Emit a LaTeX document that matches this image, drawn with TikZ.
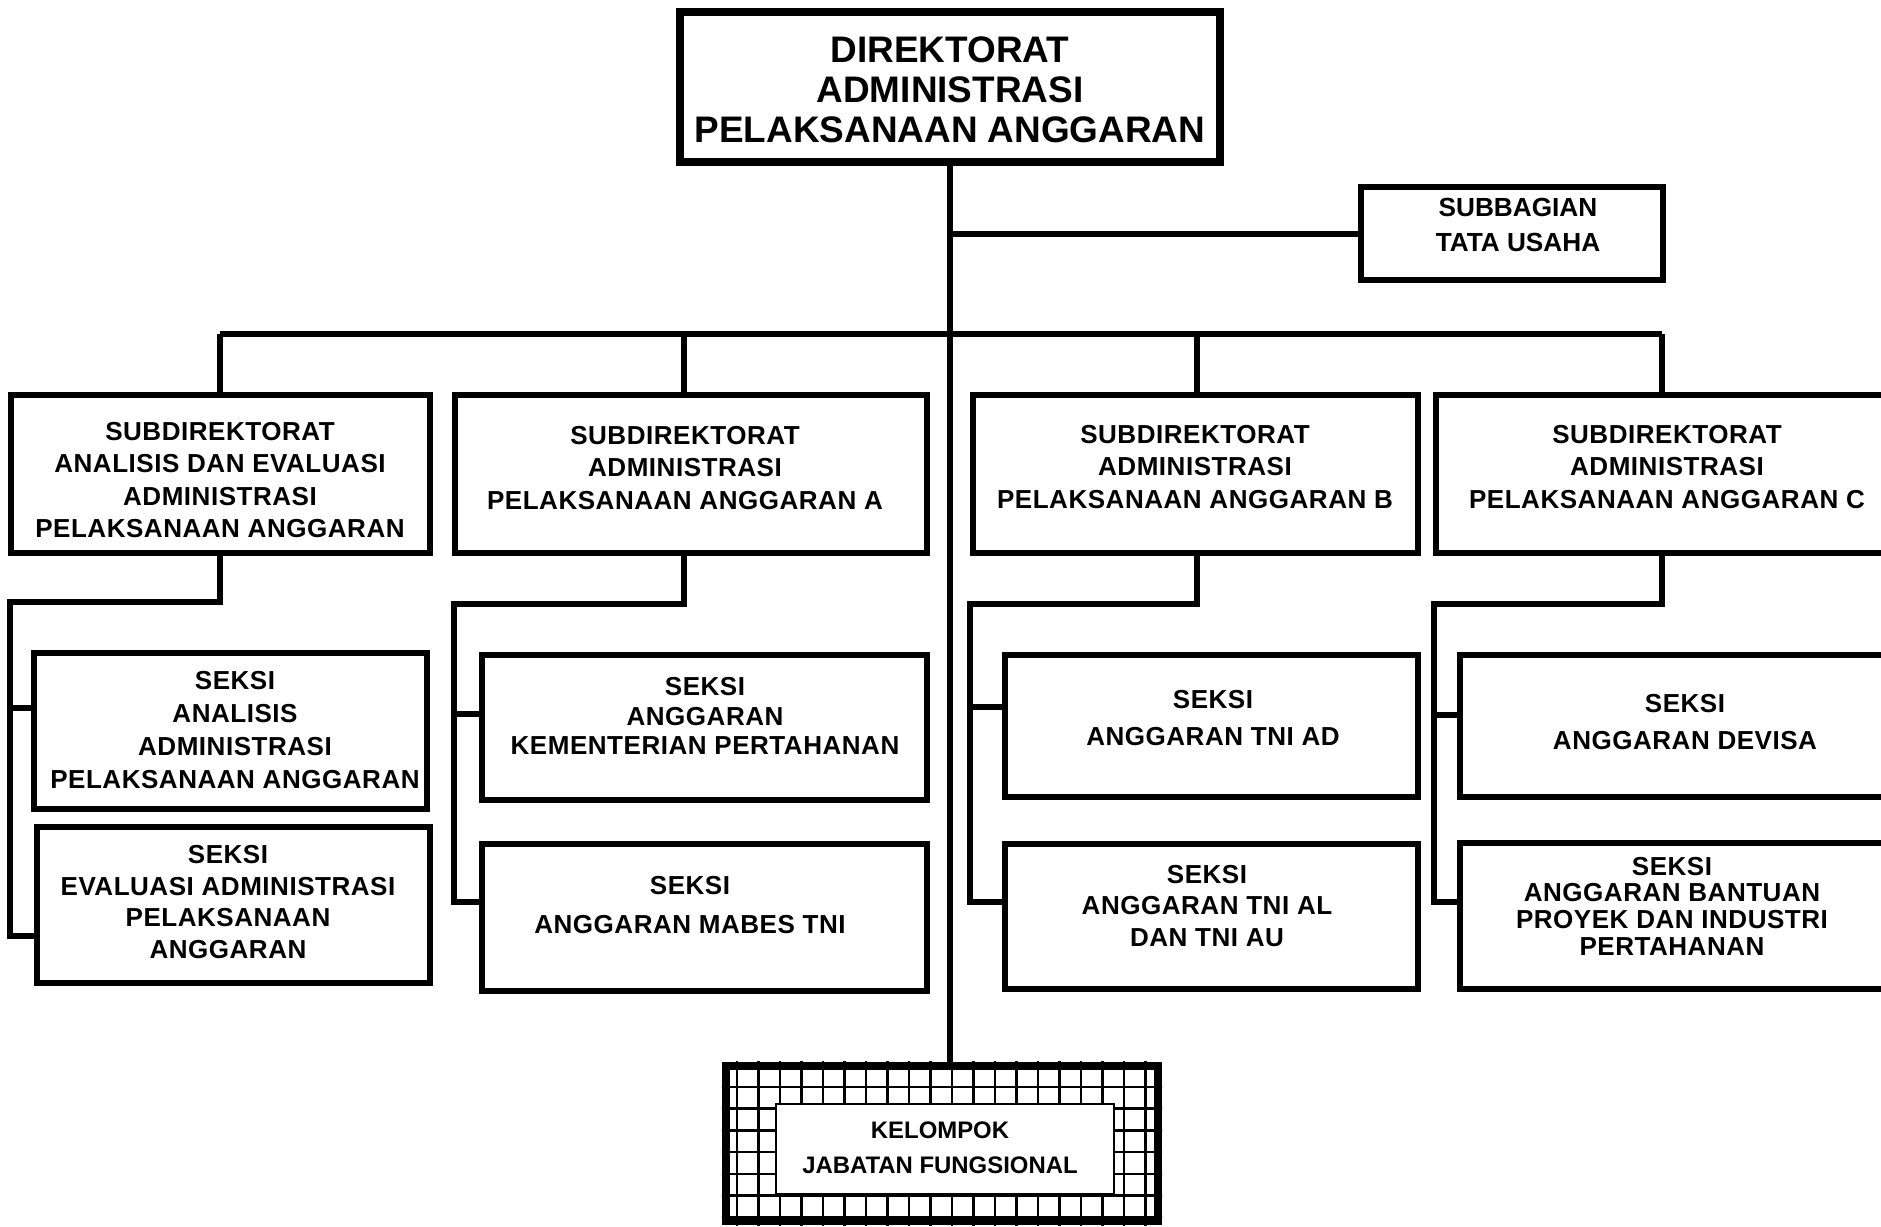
\documentclass[tikz,border=0pt]{standalone}
\usepackage{fontspec}
\setmainfont{Liberation Sans}
\newfontfamily\lsp{Liberation Sans}[LetterSpace=2]
\begin{document}
\begin{tikzpicture}[x=0.01cm,y=-0.01cm,
  bx/.style={draw, line width=1.8pt, fill=white, inner sep=0pt},
  ln/.style={line width=1.7pt},
  gridln/.style={line width=0.7pt},
  txt/.style={align=center, inner sep=0pt, font=\lsp\bfseries\fontsize{7.4}{9.2}\selectfont},
  plain/.style={align=center, inner sep=0pt}]
\clip (0,0) rectangle (1881,1226);
% top
\node[bx, line width=2.4pt, minimum width=5.40cm, minimum height=1.50cm] (dir) at (950,87) {};
\node[plain, font=\bfseries\fontsize{10.5}{11.4}\selectfont] (dirt) at (950,90) {DIREKTORAT\\ADMINISTRASI\\PELAKSANAAN ANGGARAN};
\node[bx, minimum width=3.02cm, minimum height=0.93cm] (sub) at (1512,233.5) {};
\node[plain, font=\bfseries\fontsize{7.45}{10}\selectfont] (subt) at (1518,225) {SUBBAGIAN\\TATA USAHA};
% subdirektorat
\node[bx, minimum width=4.19cm, minimum height=1.58cm] (sd1) at (220.5,474) {};
\node[bx, minimum width=4.72cm, minimum height=1.58cm] (sd2) at (691,474) {};
\node[bx, minimum width=4.45cm, minimum height=1.58cm] (sd3) at (1195.5,474) {};
\node[bx, minimum width=4.61cm, minimum height=1.58cm] (sd4) at (1666.5,474) {};
\node[txt] (sd1t) at (220,480) {SUBDIREKTORAT\\ANALISIS DAN EVALUASI\\ADMINISTRASI\\PELAKSANAAN ANGGARAN};
\node[txt] (sd2t) at (685,468) {SUBDIREKTORAT\\ADMINISTRASI\\PELAKSANAAN ANGGARAN A};
\node[txt] (sd3t) at (1195,467) {SUBDIREKTORAT\\ADMINISTRASI\\PELAKSANAAN ANGGARAN B};
\node[txt] (sd4t) at (1667,467) {SUBDIREKTORAT\\ADMINISTRASI\\PELAKSANAAN ANGGARAN C};
% seksi
\node[bx, minimum width=3.93cm, minimum height=1.56cm] (s1a) at (230.5,731) {};
\node[bx, minimum width=3.93cm, minimum height=1.56cm] (s1b) at (233.5,905) {};
\node[bx, minimum width=4.45cm, minimum height=1.45cm] (s2a) at (704.5,727.5) {};
\node[bx, minimum width=4.45cm, minimum height=1.47cm] (s2b) at (704.5,917.5) {};
\node[bx, minimum width=4.13cm, minimum height=1.42cm] (s3a) at (1211.5,726) {};
\node[bx, minimum width=4.13cm, minimum height=1.45cm] (s3b) at (1211.5,916.5) {};
\node[bx, minimum width=4.45cm, minimum height=1.42cm] (s4a) at (1682.5,726) {};
\node[bx, minimum width=4.45cm, minimum height=1.46cm] (s4b) at (1682.5,916) {};
\node[txt, font=\lsp\bfseries\fontsize{7.4}{9.3}\selectfont] (s1at) at (235,730) {SEKSI\\ANALISIS\\ADMINISTRASI\\PELAKSANAAN ANGGARAN};
\node[txt, font=\lsp\bfseries\fontsize{7.4}{9.0}\selectfont] (s1bt) at (228,902) {SEKSI\\EVALUASI ADMINISTRASI\\PELAKSANAAN\\ANGGARAN};
\node[txt, font=\lsp\bfseries\fontsize{7.4}{8.5}\selectfont] (s2at) at (705,716) {SEKSI\\ANGGARAN\\KEMENTERIAN PERTAHANAN};
\node[txt, font=\lsp\bfseries\fontsize{7.4}{10.9}\selectfont] (s2bt) at (690,905) {SEKSI\\ANGGARAN MABES TNI};
\node[txt, font=\lsp\bfseries\fontsize{7.4}{10.6}\selectfont] (s3at) at (1213,718) {SEKSI\\ANGGARAN TNI AD};
\node[txt, font=\lsp\bfseries\fontsize{7.4}{8.9}\selectfont] (s3bt) at (1207,906) {SEKSI\\ANGGARAN TNI AL\\DAN TNI AU};
\node[txt, font=\lsp\bfseries\fontsize{7.4}{10.6}\selectfont] (s4at) at (1685,722) {SEKSI\\ANGGARAN DEVISA};
\node[txt, font=\lsp\bfseries\fontsize{7.4}{7.6}\selectfont] (s4bt) at (1672,906) {SEKSI\\ANGGARAN BANTUAN\\PROYEK DAN INDUSTRI\\PERTAHANAN};
% kelompok
\node[draw, line width=2.3pt, fill=white, minimum width=4.32cm, minimum height=1.55cm, inner sep=0pt] (kel) at (942,1143.5) {};
\begin{scope}
  \clip (kel.north west) rectangle (kel.south east);
  \foreach \gx in {0,...,20} \draw[gridln] (737+21.5*\gx,1040) -- (737+21.5*\gx,1240);
  \foreach \gy in {0,...,7} \draw[gridln] (700,1087+21.7*\gy) -- (1180,1087+21.7*\gy);
\end{scope}
\node[draw, line width=0.7pt, fill=white, minimum width=3.38cm, minimum height=0.90cm, inner sep=0pt] (keli) at (945,1149) {};
\node[plain, font=\bfseries\fontsize{6.8}{9.9}\selectfont] (kelt) at (940,1148) {KELOMPOK\\JABATAN FUNGSIONAL};
% connectors
\coordinate (busL) at (220,334);
\coordinate (busR) at (1662,334);
\coordinate (d2) at (684,334);
\coordinate (d3) at (1197,334);
\draw[ln] (dir.south) -- (dir.south |- kel.north);
\draw[ln] (dir.south |- sub.west) -- (sub.west);
\draw[ln] (busL) -- (busR);
\draw[ln] (busL) -- (busL |- sd1.north);
\draw[ln] (d2) -- (d2 |- sd2.north);
\draw[ln] (d3) -- (d3 |- sd3.north);
\draw[ln] (busR) -- (busR |- sd4.north);
% brackets
\coordinate (k1) at (10,602);  \coordinate (j1a) at (10,708);  \coordinate (j1b) at (10,936);
\coordinate (k2) at (454,604); \coordinate (j2a) at (454,714); \coordinate (j2b) at (454,902);
\coordinate (k3) at (970,604); \coordinate (j3a) at (970,707); \coordinate (j3b) at (970,902);
\coordinate (k4) at (1434,604); \coordinate (j4a) at (1434,715); \coordinate (j4b) at (1434,902);
\draw[ln] (busL |- sd1.south) -- (busL |- k1) -- (k1) -- (j1b) -- (j1b -| s1b.west);
\draw[ln] (j1a) -- (j1a -| s1a.west);
\draw[ln] (d2 |- sd2.south) -- (d2 |- k2) -- (k2) -- (j2b) -- (j2b -| s2b.west);
\draw[ln] (j2a) -- (j2a -| s2a.west);
\draw[ln] (d3 |- sd3.south) -- (d3 |- k3) -- (k3) -- (j3b) -- (j3b -| s3b.west);
\draw[ln] (j3a) -- (j3a -| s3a.west);
\draw[ln] (busR |- sd4.south) -- (busR |- k4) -- (k4) -- (j4b) -- (j4b -| s4b.west);
\draw[ln] (j4a) -- (j4a -| s4a.west);
\end{tikzpicture}
\end{document}
